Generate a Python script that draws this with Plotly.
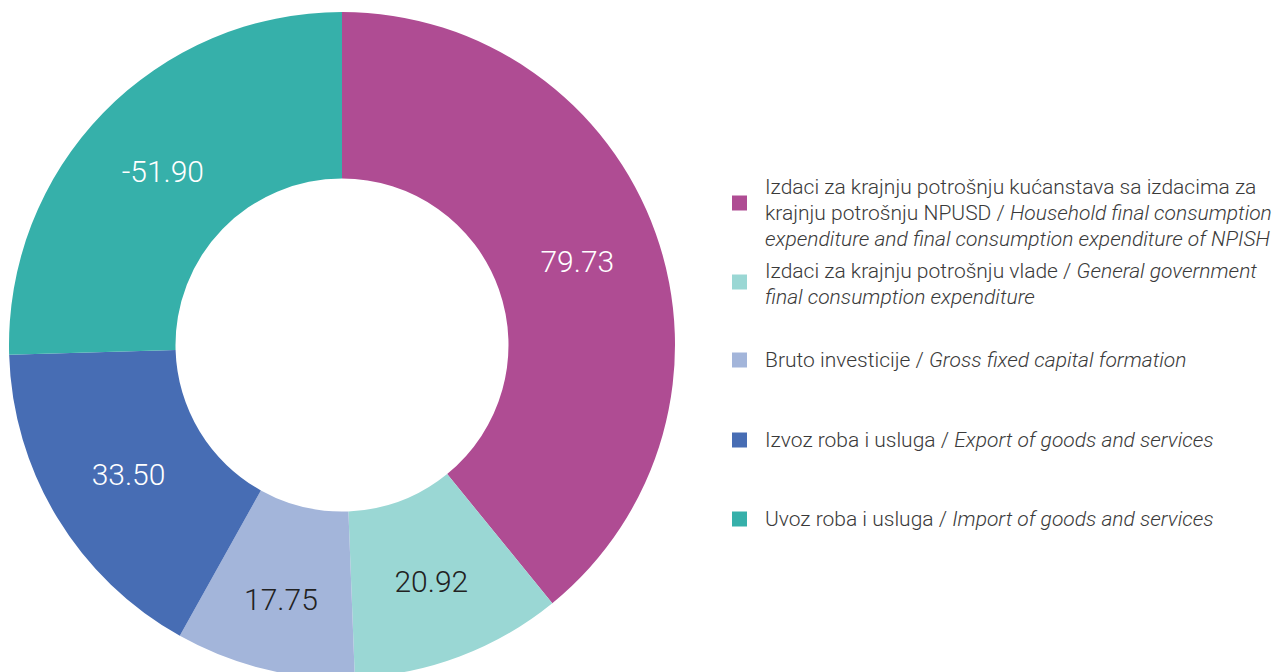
import plotly.graph_objects as go

# Composition data (values as shown on the slices)
legend_lines = [
    ["Izdaci za krajnju potrošnju kućanstava sa izdacima za",
     "krajnju potrošnju NPUSD / <i>Household final consumption</i>",
     "<i>expenditure and final consumption expenditure of NPISH</i>"],
    ["Izdaci za krajnju potrošnju vlade / <i>General government</i>",
     "<i>final consumption expenditure</i>"],
    ["Bruto investicije / <i>Gross fixed capital formation</i>"],
    ["Izvoz roba i usluga / <i>Export of goods and services</i>"],
    ["Uvoz roba i usluga / <i>Import of goods and services</i>"],
]
values = [79.73, 20.92, 17.75, 33.50, -51.90]
colors = ["#AF4C93", "#9AD7D4", "#A3B5DA", "#476DB4", "#36B0AA"]
text_colors = ["white", "#222222", "#222222", "white", "white"]

sizes = [abs(v) for v in values]
texts = [f"{v:.2f}" for v in values]
names = [" ".join(l).replace("<i>", "").replace("</i>", "") for l in legend_lines]

W, H = 1281, 672
OFF = 8  # page body margin around the plot div

def px_x(x):
    return (x - OFF) / W

def px_y(y):
    return 1 - (y - OFF) / H

fig = go.Figure(go.Pie(
    labels=names,
    values=sizes,
    text=texts,
    textinfo="text",
    sort=False,
    direction="clockwise",
    rotation=0,
    hole=0.5,
    marker=dict(colors=colors, line=dict(width=0)),
    textposition="inside",
    insidetextorientation="horizontal",
    insidetextfont=dict(family="Roboto", size=30, color=text_colors, weight=300),
    domain=dict(x=[px_x(9), px_x(675)], y=[px_y(678), px_y(12)]),
    showlegend=False,
    hoverinfo="label+text",
))

# hand-made legend to match the uneven spacing of the original
square_y = [203, 282, 360, 440, 519]
first_line_y = [187, 271, 360, 440, 519]
line_gap = 26
for i in range(len(values)):
    yc = square_y[i]
    fig.add_shape(
        type="rect", xref="paper", yref="paper",
        x0=px_x(732), x1=px_x(747), y0=px_y(yc + 7.5), y1=px_y(yc - 7.5),
        fillcolor=colors[i], line=dict(width=0),
    )
    for j, line in enumerate(legend_lines[i]):
        fig.add_annotation(
            xref="paper", yref="paper", x=px_x(766), y=px_y(first_line_y[i] + j * line_gap),
            xanchor="left", yanchor="middle", align="left", showarrow=False,
            xshift=-3, text=line,
            font=dict(family="Roboto", size=21, color="#3a3a3a", weight=300),
        )

fig.update_layout(
    width=W, height=H,
    margin=dict(l=0, r=0, t=0, b=0),
    paper_bgcolor="white",
    plot_bgcolor="white",
)

fig.write_html("out.html")
